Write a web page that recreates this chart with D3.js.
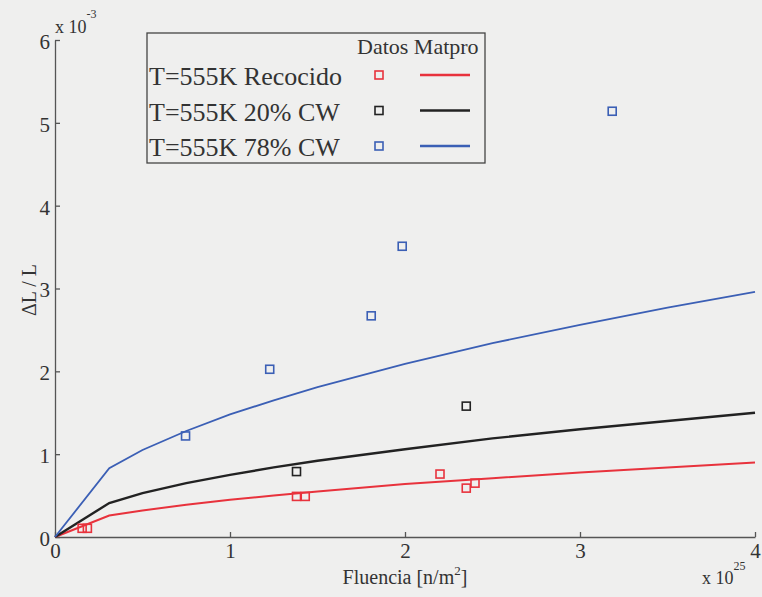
<!DOCTYPE html>
<html><head><meta charset="utf-8">
<script src="https://cdn.jsdelivr.net/npm/d3@7"></script>
<style>
html,body{margin:0;padding:0;background:#efefee;}
svg{display:block;}
svg text{font-family:"Liberation Serif","Times New Roman",Tinos,"DejaVu Serif","Noto Serif",Times,serif;}
</style></head>
<body><svg id="c" width="762" height="597"></svg>
<script>
// Matpro model curves, x in 1e25 n/m^2, y in 1e-3
const modelX = [0, 0.31, 0.5, 0.75, 1, 1.25, 1.5, 2, 2.5, 3, 3.5, 4];
const modelRecocido = [0, 0.26, 0.32, 0.39, 0.45, 0.50, 0.55, 0.64, 0.71, 0.78, 0.84, 0.90];
const model20CW = [0, 0.41, 0.53, 0.65, 0.75, 0.84, 0.92, 1.06, 1.19, 1.30, 1.40, 1.50];
const model78CW = [0, 0.83, 1.05, 1.28, 1.48, 1.65, 1.81, 2.09, 2.34, 2.56, 2.77, 2.96];

// Experimental data
const datosRecocidoX = [0.155, 0.185, 1.38, 1.43, 2.20, 2.35, 2.40];
const datosRecocidoY = [0.105, 0.105, 0.49, 0.49, 0.76, 0.59, 0.65];
const datos20CWX = [1.38, 2.35];
const datos20CWY = [0.79, 1.58];
const datos78CWX = [0.746, 1.227, 1.807, 1.984, 3.184];
const datos78CWY = [1.22, 2.025, 2.67, 3.51, 5.14];

const seriesNames = ["T=555K Recocido", "T=555K 20% CW", "T=555K 78% CW"];
const xTicks = [0, 1, 2, 3, 4];
const yTicks = [0, 1, 2, 3, 4, 5, 6];
const colors = ["#e8323c", "#222222", "#3b5fb5"];

const series = [
  {name: seriesNames[0], color: colors[0], mx: modelX, my: modelRecocido, dx: datosRecocidoX, dy: datosRecocidoY, w: 2},
  {name: seriesNames[1], color: colors[1], mx: modelX, my: model20CW, dx: datos20CWX, dy: datos20CWY, w: 2.4},
  {name: seriesNames[2], color: colors[2], mx: modelX, my: model78CW, dx: datos78CWX, dy: datos78CWY, w: 1.8}
];

const svg = d3.select("#c");
const x = d3.scaleLinear().domain([0, 4]).range([55, 755]);
const y = d3.scaleLinear().domain([0, 6]).range([537, 40]);
const axisColor = "#555";

// axes (left & bottom only, inward ticks)
const xAxis = svg.append("g").attr("transform", `translate(0,${y(0)})`)
  .call(d3.axisBottom(x).tickValues(xTicks).tickSizeInner(-5).tickSizeOuter(0).tickPadding(6).tickFormat(d3.format("d")));
const yAxis = svg.append("g").attr("transform", `translate(${x(0)},0)`)
  .call(d3.axisLeft(y).tickValues(yTicks).tickSizeInner(-5).tickSizeOuter(0).tickPadding(5).tickFormat(d3.format("d")));
[xAxis, yAxis].forEach(g => {
  g.attr("font-family", null).attr("font-size", null);
  g.select(".domain").attr("stroke", axisColor).attr("stroke-width", 1.3);
  g.selectAll(".tick line").attr("stroke", axisColor).attr("stroke-width", 1.3);
  g.selectAll(".tick text").attr("fill", "#333").attr("font-size", 21);
});
xAxis.selectAll(".tick text").attr("y", 6).attr("dy", "0.72em");
yAxis.selectAll(".tick text").attr("dy", "0.4em");

// model lines
const line = d3.line().x(d => x(d[0])).y(d => y(d[1]));
series.forEach(s => {
  svg.append("path").datum(s.mx.map((v, i) => [v, s.my[i]]))
    .attr("d", line).attr("fill", "none").attr("stroke", s.color).attr("stroke-width", s.w);
});
// data squares
const sq = 8;
series.forEach(s => {
  svg.append("g").selectAll("rect").data(s.dx.map((v, i) => [v, s.dy[i]])).join("rect")
    .attr("x", d => x(d[0]) - sq / 2).attr("y", d => y(d[1]) - sq / 2)
    .attr("width", sq).attr("height", sq)
    .attr("fill", "none").attr("stroke", s.color).attr("stroke-width", 1.6);
});

// exponents
const tc = "#333";
const e1 = svg.append("text").attr("x", 55).attr("y", 33).attr("font-size", 18).attr("fill", tc);
e1.append("tspan").text("x 10");
e1.append("tspan").attr("font-size", 12).attr("dy", -15).text("-3");
const e2 = svg.append("text").attr("x", 702).attr("y", 584).attr("font-size", 18).attr("fill", tc);
e2.append("tspan").text("x 10");
e2.append("tspan").attr("font-size", 12).attr("dy", -14).text("25");

// axis titles
const xt = svg.append("text").attr("x", 405).attr("y", 584).attr("text-anchor", "middle")
  .attr("font-size", 20).attr("fill", tc);
xt.append("tspan").text("Fluencia [n/m");
xt.append("tspan").attr("font-size", 13).attr("dy", -9).text("2");
xt.append("tspan").attr("dy", 9).text("]");
svg.append("text").attr("transform", "translate(36,290) rotate(-90)").attr("text-anchor", "middle")
  .attr("font-size", 20).attr("fill", tc).text("\u0394L / L");

// legend
const lg = svg.append("g");
lg.append("rect").attr("x", 147).attr("y", 33).attr("width", 338).attr("height", 130)
  .attr("fill", "#efefee").attr("stroke", "#444").attr("stroke-width", 1.3);
lg.append("text").attr("x", 357).attr("y", 54).attr("font-size", 22).attr("fill", tc).text("Datos Matpro");
series.forEach((s, i) => {
  const cy = 75 + i * 35.5;
  lg.append("text").attr("x", 149).attr("y", cy + 10).attr("font-size", 26).attr("fill", tc).text(s.name);
  lg.append("rect").attr("x", 375).attr("y", cy - 4).attr("width", 8).attr("height", 8)
    .attr("fill", "none").attr("stroke", s.color).attr("stroke-width", 1.6);
  lg.append("line").attr("x1", 420).attr("x2", 470).attr("y1", cy).attr("y2", cy)
    .attr("stroke", s.color).attr("stroke-width", 2.4);
});
</script></body></html>
